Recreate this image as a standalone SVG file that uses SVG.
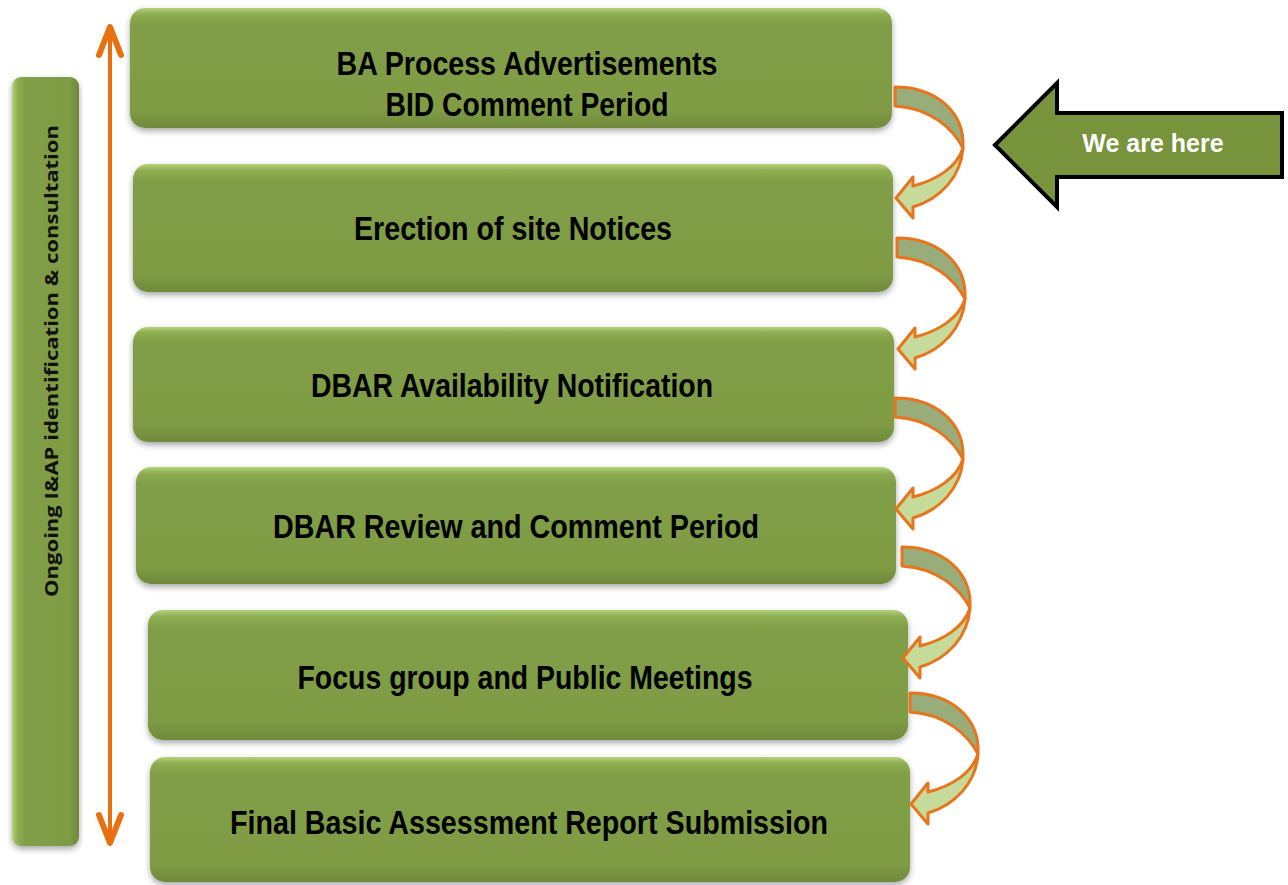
<svg xmlns="http://www.w3.org/2000/svg" width="1288" height="885" viewBox="0 0 1288 885">
<style>
.box{fill:url(#g);filter:url(#sh)}
.lbl{font-family:"Liberation Sans Narrow","Liberation Sans",Arial,sans-serif;font-stretch:condensed;font-weight:bold;font-size:34px;fill:#000;text-anchor:middle}
.side{font-family:"Open Sans","Liberation Sans",sans-serif;font-weight:bold;font-size:17px;fill:#111;text-anchor:middle}
.curlD{fill:#98ad7a;stroke:#e8741c;stroke-width:3;stroke-linejoin:round}
.curlL{fill:#c6db9a;stroke:#e8741c;stroke-width:3;stroke-linejoin:round}
.dbl{fill:none;stroke:#e8700e;stroke-linecap:round;stroke-linejoin:round}
</style>
<defs>
<linearGradient id="g" x1="0" y1="0" x2="0" y2="1">
<stop offset="0" stop-color="#b4d47a"/>
<stop offset="0.05" stop-color="#8fae52"/>
<stop offset="0.14" stop-color="#809e46"/>
<stop offset="0.85" stop-color="#7f9c45"/>
<stop offset="1" stop-color="#6f8a3b"/>
</linearGradient>
<linearGradient id="gs" x1="0" y1="0" x2="1" y2="0">
<stop offset="0" stop-color="#b4d47a"/>
<stop offset="0.08" stop-color="#8fae52"/>
<stop offset="0.2" stop-color="#809e46"/>
<stop offset="0.85" stop-color="#7f9c45"/>
<stop offset="1" stop-color="#6f8a3b"/>
</linearGradient>
<filter id="sh" x="-5%" y="-10%" width="110%" height="130%">
<feDropShadow dx="0" dy="3" stdDeviation="3" flood-color="#000" flood-opacity="0.35"/>
</filter>
<g id="curl">
<path class="curlD" d="M0,0 C42,0 70,26 68,61 C58,42 36,21 0,19 Z"/>
<path class="curlL" d="M68,61 C66,90 45,112 18,120 L18,131 L1,111 L18,90 L18,99 C42,93 62,80 68,61 Z"/>
</g>
</defs>
<rect width="1288" height="885" fill="#fff"/>

<g id="side-box">
<rect x="12" y="77" width="67" height="769" rx="9" fill="url(#gs)" filter="url(#sh)"/>
<text class="side" transform="translate(58,361) rotate(-90)" textLength="472" lengthAdjust="spacingAndGlyphs">Ongoing I&amp;AP identification &amp; consultation</text>
</g>

<g id="timeline-arrow">
<line class="dbl" x1="110" y1="28" x2="110" y2="842" stroke-width="4"/>
<polyline class="dbl" points="99,55 110,27 121,55" stroke-width="6"/>
<polyline class="dbl" points="99,815 110,843 121,815" stroke-width="6"/>
</g>

<g id="step1">
<rect class="box" x="130" y="8" width="762" height="120" rx="15"/>
<text class="lbl" x="527" y="75" textLength="381" lengthAdjust="spacingAndGlyphs">BA Process Advertisements</text>
<text class="lbl" x="527" y="116" textLength="283" lengthAdjust="spacingAndGlyphs">BID Comment Period</text>
</g>
<g id="step2">
<rect class="box" x="133" y="164" width="760" height="128" rx="15"/>
<text class="lbl" x="513" y="240" textLength="318" lengthAdjust="spacingAndGlyphs">Erection of site Notices</text>
</g>
<g id="step3">
<rect class="box" x="133" y="327" width="761" height="115" rx="15"/>
<text class="lbl" x="512" y="397" textLength="402" lengthAdjust="spacingAndGlyphs">DBAR Availability Notification</text>
</g>
<g id="step4">
<rect class="box" x="136" y="467" width="760" height="117" rx="15"/>
<text class="lbl" x="516" y="538" textLength="486" lengthAdjust="spacingAndGlyphs">DBAR Review and Comment Period</text>
</g>
<g id="step5">
<rect class="box" x="148" y="610" width="760" height="130" rx="15"/>
<text class="lbl" x="525" y="689" textLength="455" lengthAdjust="spacingAndGlyphs">Focus group and Public Meetings</text>
</g>
<g id="step6">
<rect class="box" x="150" y="757" width="760" height="125" rx="15"/>
<text class="lbl" x="529" y="834" textLength="598" lengthAdjust="spacingAndGlyphs">Final Basic Assessment Report Submission</text>
</g>

<g id="connectors">
<use href="#curl" x="895" y="87"/>
<use href="#curl" x="897" y="238"/>
<use href="#curl" x="895" y="398"/>
<use href="#curl" x="902" y="547"/>
<use href="#curl" x="910" y="693"/>
</g>

<g id="we-are-here">
<polygon points="995,145 1057,83 1057,113 1282,113 1282,177 1057,177 1057,207" fill="#77933c" stroke="#000" stroke-width="4" stroke-linejoin="miter"/>
<text x="1153" y="152" font-family="'Liberation Sans',Arial,sans-serif" font-weight="bold" font-size="25" fill="#fff" text-anchor="middle">We are here</text>
</g>
</svg>
